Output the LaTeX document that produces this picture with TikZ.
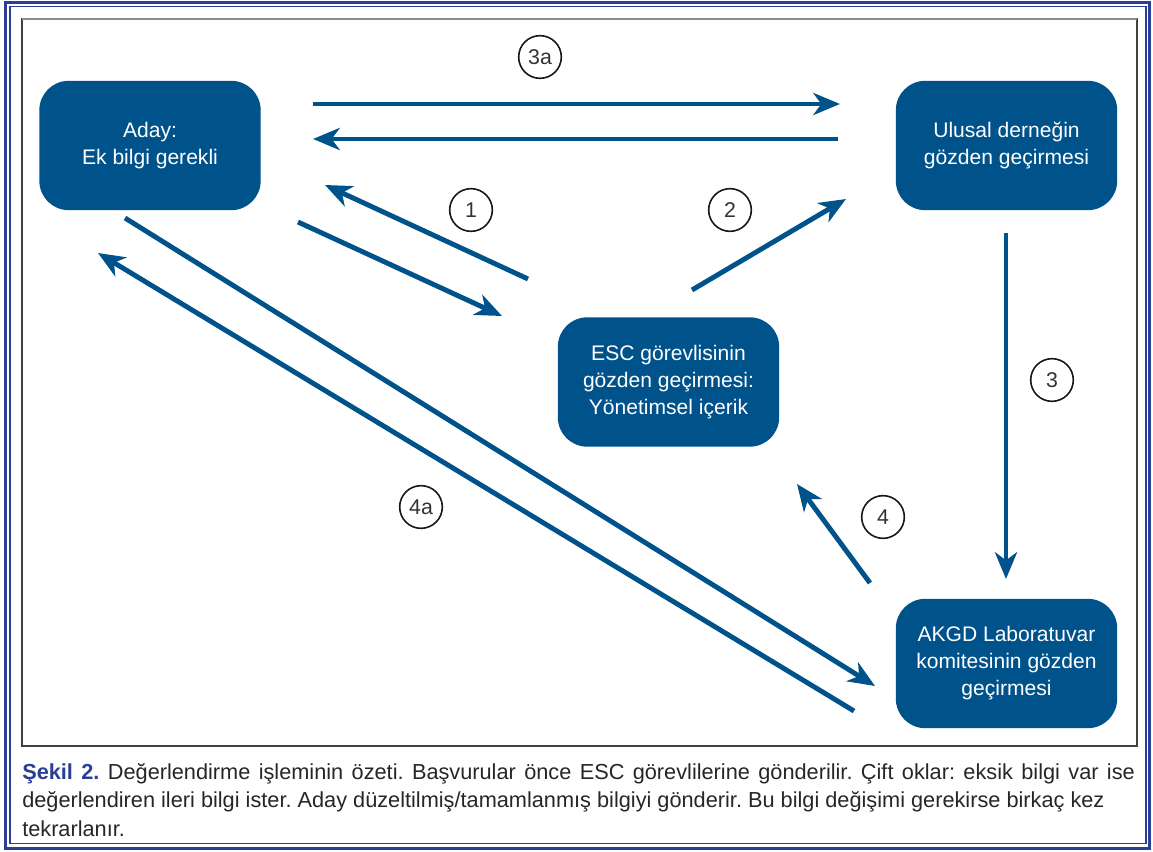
\documentclass[tikz,border=0pt]{standalone}
\usepackage{fontspec}
\setmainfont{Liberation Sans}
\usepackage{tikz}
\usetikzlibrary{arrows, arrows.meta, positioning, calc}
\frenchspacing

\definecolor{boxblue}{RGB}{0,82,139}
\definecolor{frameblue}{RGB}{42,62,150}

\begin{document}
\begin{tikzpicture}[x=0.75pt, y=-0.75pt,
  stage/.style={rectangle, rounded corners=22pt, fill=boxblue, text=white,
    minimum width=166pt, minimum height=97pt, align=center,
    font=\fontsize{15.8}{20.3}\selectfont},
  flow/.style={-{Stealth[length=20pt, width=16.5pt, inset=6pt]}, line width=3.7pt, boxblue},
  num/.style={circle, draw=black!90, line width=1.2pt, minimum size=32pt, inner sep=0pt,
    font=\fontsize{16}{18}\selectfont, text=black!80}]
\useasboundingbox (0,0) rectangle (1153,852);

% Frames
\draw[frameblue, line width=2.4pt] (5.5,2.5) rectangle (1149.5,848.5);
\draw[frameblue, line width=0.9pt] (10,6.5) rectangle (1146,843.5);
\draw[black!75, line width=1.1pt] (22,19) rectangle (1137,746);
\draw[black!45, line width=1.1pt] (22,19) -- (1137,19);

% Stages
\node[stage] (aday) at (150,145.5) {Aday:\\Ek bilgi gerekli};
\node[stage] (ulusal) at (1006.5,145.5) {Ulusal derneğin\\gözden geçirmesi};
\node[stage] (esc) at (668.5,382) {ESC görevlisinin\\gözden geçirmesi:\\Yönetimsel içerik};
\node[stage] (akgd) at (1006.5,663.5) {AKGD Laboratuvar\\komitesinin gözden\\geçirmesi};

% Step numbers
\node[num] (n3a) at (540,57) {3a};
\node[num] (n1) at (471,210) {1};
\node[num] (n2) at (730,210) {2};
\node[num] (n3) at (1052,380) {3};
\node[num] (n4) at (883,517) {4};
\node[num] (n4a) at (421,507) {4a};

% Arrow ends
\coordinate (a3aS) at (313,104);  \coordinate (a3aE) at (840,104);
\coordinate (b3aS) at (838,139);  \coordinate (b3aE) at (313,139);
\coordinate (a1S) at (528,279);   \coordinate (a1E) at (325,185);
\coordinate (b1S) at (298,222);   \coordinate (b1E) at (502,316);
\coordinate (a2S) at (692,290);   \coordinate (a2E) at (846,199);
\coordinate (a3S) at (1006,233);  \coordinate (a3E) at (1006,579);
\coordinate (a4S) at (870,583);   \coordinate (a4E) at (797,484);
\coordinate (a4aS) at (125,218);  \coordinate (a4aE) at (875,686);
\coordinate (b4aS) at (854,711);  \coordinate (b4aE) at (98,253);

% Arrows
\draw[flow] (a3aS) -- (a3aE);
\draw[flow] (b3aS) -- (b3aE);
\draw[flow] (a1S) -- (a1E);
\draw[flow] (b1S) -- (b1E);
\draw[flow] (a2S) -- (a2E);
\draw[flow] (a3S) -- (a3E);
\draw[flow] (a4S) -- (a4E);
\draw[flow] (a4aS) -- (a4aE);
\draw[flow] (b4aS) -- (b4aE);

% Caption
\node[anchor=north west, inner sep=0pt, text width=834.5pt, align=justify, text=black!85,
  font=\fontsize{16.3}{21.4}\selectfont] (caption) at (22,763)
  {{\color{frameblue}\bfseries Şekil 2.} Değerlendirme işleminin özeti. Başvurular önce ESC görevlilerine gönderilir. Çift oklar: eksik bilgi var ise\linebreak
  değerlendiren ileri bilgi ister. Aday düzeltilmiş/tamamlanmış bilgiyi gönderir. Bu bilgi değişimi gerekirse birkaç kez\newline
  tekrarlanır.};
\end{tikzpicture}
\end{document}
